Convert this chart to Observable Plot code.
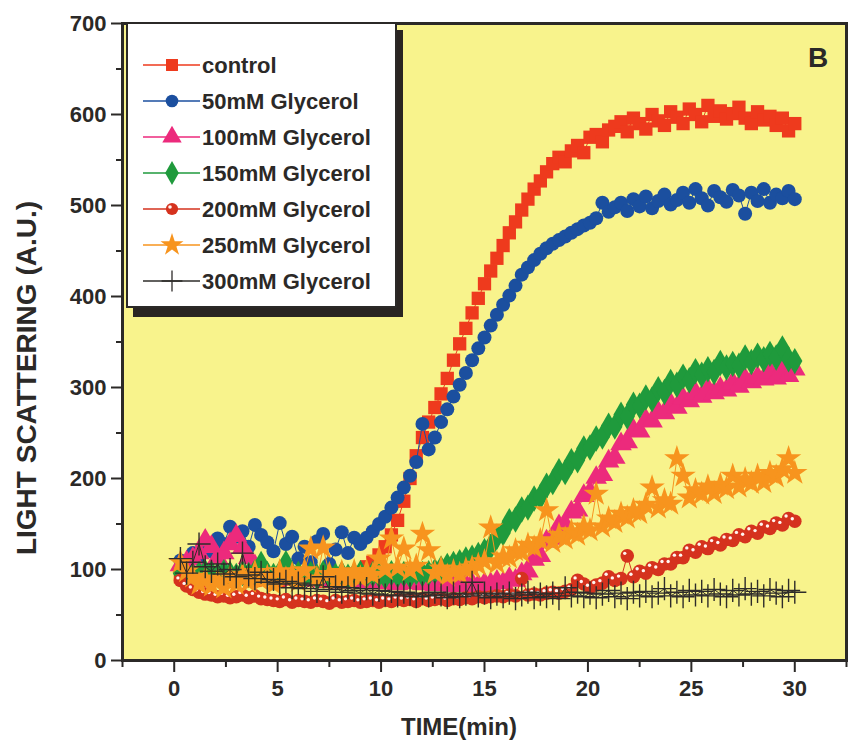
<!DOCTYPE html>
<html>
<head>
<meta charset="utf-8">
<script src="https://cdn.jsdelivr.net/npm/d3@7"></script>
<script src="https://cdn.jsdelivr.net/npm/@observablehq/plot@0.6"></script>
<style>
  html, body { margin: 0; padding: 0; background: #ffffff; }
  #chart svg { display: block; }
</style>
</head>
<body>
<div id="chart"></div>
<script>
// Sampling times (min)
const time = [
  0.3, 0.6, 0.9, 1.2, 1.5, 1.8, 2.1, 2.4, 2.7, 3.0,
  3.3, 3.6, 3.9, 4.2, 4.5, 4.8, 5.1, 5.4, 5.7, 6.0,
  6.3, 6.6, 6.9, 7.2, 7.5, 7.8, 8.1, 8.4, 8.7, 9.0,
  9.3, 9.6, 9.9, 10.2, 10.5, 10.8, 11.1, 11.4, 11.7, 12.0,
  12.3, 12.6, 12.9, 13.2, 13.5, 13.8, 14.1, 14.4, 14.7, 15.0,
  15.3, 15.6, 15.9, 16.2, 16.5, 16.8, 17.1, 17.4, 17.7, 18.0,
  18.3, 18.6, 18.9, 19.2, 19.5, 19.8, 20.1, 20.4, 20.7, 21.0,
  21.3, 21.6, 21.9, 22.2, 22.5, 22.8, 23.1, 23.4, 23.7, 24.0,
  24.3, 24.6, 24.9, 25.2, 25.5, 25.8, 26.1, 26.4, 26.7, 27.0,
  27.3, 27.6, 27.9, 28.2, 28.5, 28.8, 29.1, 29.4, 29.7, 30.0
];

// Light scattering (A.U.) per condition
const control = [
  92, 90, 94, 88, 91, 95, 89, 93, 87, 91,
  94, 90, 88, 92, 89, 91, 87, 93, 90, 88,
  91, 89, 92, 87, 90, 93, 89, 91, 95, 96,
  103, 108, 116, 125, 138, 154, 175, 200, 225, 245,
  262, 278, 293, 310, 330, 348, 365, 382, 398, 414,
  428, 442, 456, 470, 482, 495, 507, 518, 527, 537,
  546, 553, 548, 560, 566, 558, 575, 578, 570, 583,
  587, 592, 581, 596, 590, 584, 600, 593, 588, 603,
  597, 590, 606, 600, 592, 610, 598, 604, 595, 601,
  608, 596, 590, 603, 594, 598, 588, 596, 582, 590
];
const glycerol50 = [
  110, 104, 118, 112, 126, 120, 134, 128, 147, 136,
  142, 125, 149, 138, 130, 120, 151, 128, 136, 112,
  125, 108, 131, 139, 106, 122, 141, 118, 135, 128,
  135, 142, 150, 158, 168, 179, 190, 203, 218, 260,
  232, 245, 262, 276, 290, 303, 316, 330, 343, 355,
  368, 380, 391, 401, 412, 424, 432, 440, 447, 453,
  458, 462, 466, 470, 474, 478, 481, 486, 503, 493,
  498, 503, 494, 507, 499, 510, 497, 505, 512, 501,
  506, 514, 503, 518, 508, 500, 516, 509, 504, 517,
  511, 491, 514, 505, 518, 503, 512, 508, 516, 507
];
const glycerol100 = [
  105, 108, 112, 118, 132, 125, 113, 118, 128, 137,
  124, 113, 104, 98, 94, 91, 90, 92, 89, 90,
  88, 90, 89, 87, 90, 88, 86, 89, 87, 88,
  86, 88, 85, 87, 86, 84, 87, 85, 86, 84,
  85, 83, 86, 84, 82, 85, 83, 84, 82, 84,
  84, 87, 85, 90, 88, 95, 98, 111, 115, 131,
  134, 148, 149, 163, 165, 181, 185, 201, 204, 219,
  223, 238, 240, 253, 252, 264, 263, 273, 272, 282,
  278, 288, 285, 294, 290, 298, 294, 299, 297, 305,
  301, 309, 306, 311, 309, 317, 310, 319, 313, 320
];
const glycerol150 = [
  96, 94, 93, 95, 97, 96, 94, 97, 95, 93,
  96, 94, 97, 106, 95, 93, 96, 107, 94, 95,
  93, 95, 92, 96, 94, 93, 95, 92, 94, 96,
  93, 95, 94, 92, 96, 94, 95, 93, 97, 95,
  96, 98, 101, 104, 106, 108, 111, 113, 116, 120,
  125, 136, 140, 153, 155, 166, 168, 178, 180, 192,
  196, 208, 207, 219, 220, 233, 234, 244, 246, 258,
  257, 270, 268, 281, 280, 289, 287, 298, 295, 306,
  303, 312, 308, 318, 314, 320, 317, 327, 322, 326,
  324, 333, 328, 335, 331, 337, 333, 343, 331, 329
];
const glycerol200 = [
  88, 82, 78, 75, 73, 72, 70, 71, 69, 70,
  72, 69, 71, 68, 67, 66, 65, 67, 64, 66,
  65, 64, 66, 65, 63, 66, 64, 65, 66, 64,
  65, 66, 64, 66, 65, 67, 66, 67, 65, 68,
  66, 67, 68, 66, 68, 67, 69, 68, 70, 69,
  70, 71, 70, 72, 71, 90, 72, 73, 72, 74,
  75, 74, 76, 78, 88, 84, 80, 83, 85, 92,
  88, 90, 115, 92, 98, 96, 102, 100, 106, 106,
  113, 113, 121, 119, 125, 123, 129, 127, 133, 132,
  138, 136, 142, 140, 147, 145, 151, 149, 156, 153
];
const glycerol250 = [
  108, 98, 92, 84, 90, 82, 88, 80, 92, 84,
  94, 86, 97, 88, 92, 84, 98, 90, 95, 87,
  99, 123, 90, 124, 95, 87, 97, 89, 98, 91,
  98, 94, 112, 100, 134, 102, 123, 99, 104, 139,
  121, 96, 101, 93, 98, 95, 100, 102, 105, 109,
  146, 107, 114, 113, 121, 119, 127, 124, 132, 165,
  130, 138, 134, 142, 138, 147, 143, 183, 147, 156,
  152, 161, 157, 165, 162, 171, 190, 168, 176, 172,
  222, 203, 179, 187, 183, 191, 184, 193, 189, 203,
  191, 199, 195, 203, 196, 206, 202, 210, 222, 206
];
const glycerol300 = [
  112, 96, 108, 128, 103, 98, 106, 95, 100, 92,
  118, 94, 90, 97, 86, 89, 84, 87, 80, 85,
  79, 83, 76, 92, 78, 81, 75, 80, 77, 74,
  79, 73, 77, 72, 76, 71, 75, 73, 70, 74,
  71, 75, 72, 69, 74, 70, 73, 86, 71, 74,
  69, 73, 70, 74, 68, 72, 75, 69, 73, 70,
  74, 68, 80, 71, 75, 70, 74, 69, 73, 77,
  70, 74, 68, 75, 71, 76, 70, 74, 79, 71,
  75, 70, 77, 72, 76, 71, 78, 73, 70, 77,
  72, 79, 73, 76, 71, 78, 74, 70, 77, 75
];

// Legend labels and axis ticks
const seriesNames = ["control", "50mM Glycerol", "100mM Glycerol", "150mM Glycerol",
                     "200mM Glycerol", "250mM Glycerol", "300mM Glycerol"];
const yTicks = [0, 100, 200, 300, 400, 500, 600, 700];
const yMinorTicks = [50, 150, 250, 350, 450, 550, 650];
const xTicks = [0, 5, 10, 15, 20, 25, 30];
const xMinorTicks = [-2.5, 2.5, 7.5, 12.5, 17.5, 22.5, 27.5, 32.5];

const ink = "#2b2927";
const font = "'Liberation Sans', Arial, Helvetica, sans-serif";

const series = [
  {values: control,     color: "#ee3a1d", symbol: "square",   r: 7.5},
  {values: glycerol50,  color: "#1b4f9f", symbol: "circle",   r: 7},
  {values: glycerol100, color: "#ec2a7c", symbol: "triangle", r: 8},
  {values: glycerol150, color: "#1f9a3c", symbol: "diamond",  r: 8},
  {values: glycerol200, color: "#d5321e", symbol: "circle",   r: 6.8, shine: true},
  {values: glycerol250, color: "#f7941e", symbol: "star",     r: 8},
  {values: glycerol300, color: "#2e2c2a", symbol: "plus",     r: 7.5, stroked: true}
].map((s, k) => ({...s, name: seriesNames[k], rows: time.map((t, i) => ({t, v: s.values[i]}))}));

const dataMarks = series.flatMap(s => {
  const marks = [Plot.line(s.rows, {x: "t", y: "v", stroke: s.color, strokeWidth: 1})];
  if (s.stroked) {
    marks.push(Plot.dot(s.rows, {x: "t", y: "v", symbol: s.symbol, r: s.r, stroke: s.color, strokeWidth: 1.4}));
  } else {
    marks.push(Plot.dot(s.rows, {x: "t", y: "v", symbol: s.symbol, r: s.r, fill: s.color, stroke: "none"}));
  }
  if (s.shine) {
    marks.push(Plot.dot(s.rows, {x: "t", y: "v", r: 1.7, fill: "#fff4f0", dx: -2.5, dy: -2.5}));
  }
  return marks;
});

const chart = Plot.plot({
  width: 849,
  height: 747,
  marginLeft: 122,
  marginRight: 3,
  marginTop: 23,
  marginBottom: 87,
  x: {domain: [-2.5, 32.5]},
  y: {domain: [0, 700]},
  style: {fontFamily: font, background: "#ffffff", color: ink, overflow: "visible"},
  marks: [
    Plot.frame({fill: "#f8f38c", stroke: "none"}),
    ...dataMarks,
    Plot.frame({stroke: ink, strokeWidth: 3}),
    Plot.axisY(yTicks, {tickSize: 11, tickPadding: 5, fontSize: 22, fontWeight: "bold", strokeWidth: 2, label: null}),
    Plot.axisY(yMinorTicks, {tickSize: 6, tickFormat: () => "", strokeWidth: 2, label: null}),
    Plot.axisX(xTicks, {tickSize: 12, tickPadding: 8, fontSize: 22, fontWeight: "bold", strokeWidth: 2, label: null}),
    Plot.axisX(xMinorTicks, {tickSize: 7, tickFormat: () => "", strokeWidth: 2, label: null})
  ]
});

document.getElementById("chart").appendChild(chart);

// Axis titles, panel letter and legend
const svg = d3.select(chart);

svg.append("text")
  .attr("transform", "translate(26,378) rotate(-90)")
  .attr("text-anchor", "middle")
  .attr("dominant-baseline", "central")
  .attr("font-family", font).attr("font-weight", "bold").attr("font-size", 28)
  .attr("fill", ink)
  .text("LIGHT SCATTERING (A.U.)");

svg.append("text")
  .attr("x", 459).attr("y", 735)
  .attr("text-anchor", "middle")
  .attr("font-family", font).attr("font-weight", "bold").attr("font-size", 24)
  .attr("fill", ink)
  .text("TIME(min)");

svg.append("text")
  .attr("x", 818).attr("y", 67)
  .attr("text-anchor", "middle")
  .attr("font-family", font).attr("font-weight", "bold").attr("font-size", 28)
  .attr("fill", ink)
  .text("B");

const legend = svg.append("g");
legend.append("rect").attr("x", 133).attr("y", 30).attr("width", 270).attr("height", 287).attr("fill", "#2a2522");
legend.append("rect").attr("x", 127).attr("y", 23).attr("width", 269).attr("height", 284)
  .attr("fill", "#ffffff").attr("stroke", ink).attr("stroke-width", 2);

const symbolType = {
  square: d3.symbolSquare, circle: d3.symbolCircle, triangle: d3.symbolTriangle,
  diamond: d3.symbolDiamond, star: d3.symbolStar, plus: d3.symbolPlus
};

series.forEach((s, k) => {
  const cy = 65 + k * 36;
  const rr = s.r * 0.9;
  const row = legend.append("g");
  row.append("line").attr("x1", 143).attr("x2", 200).attr("y1", cy).attr("y2", cy)
    .attr("stroke", s.color).attr("stroke-width", 1.4);
  const path = row.append("path")
    .attr("transform", `translate(172,${cy})`)
    .attr("d", d3.symbol(symbolType[s.symbol], rr * rr * Math.PI)());
  if (s.stroked) {
    path.attr("fill", "none").attr("stroke", s.color).attr("stroke-width", 1.3);
  } else {
    path.attr("fill", s.color);
  }
  if (s.shine) {
    row.append("circle").attr("cx", 170).attr("cy", cy - 2).attr("r", 1.8).attr("fill", "#fff4f0");
  }
  row.append("text")
    .attr("x", 202).attr("y", cy)
    .attr("text-anchor", "start")
    .attr("dominant-baseline", "central")
    .attr("font-family", font).attr("font-weight", "bold").attr("font-size", 22)
    .attr("fill", ink)
    .text(s.name);
});
</script>
</body>
</html>
